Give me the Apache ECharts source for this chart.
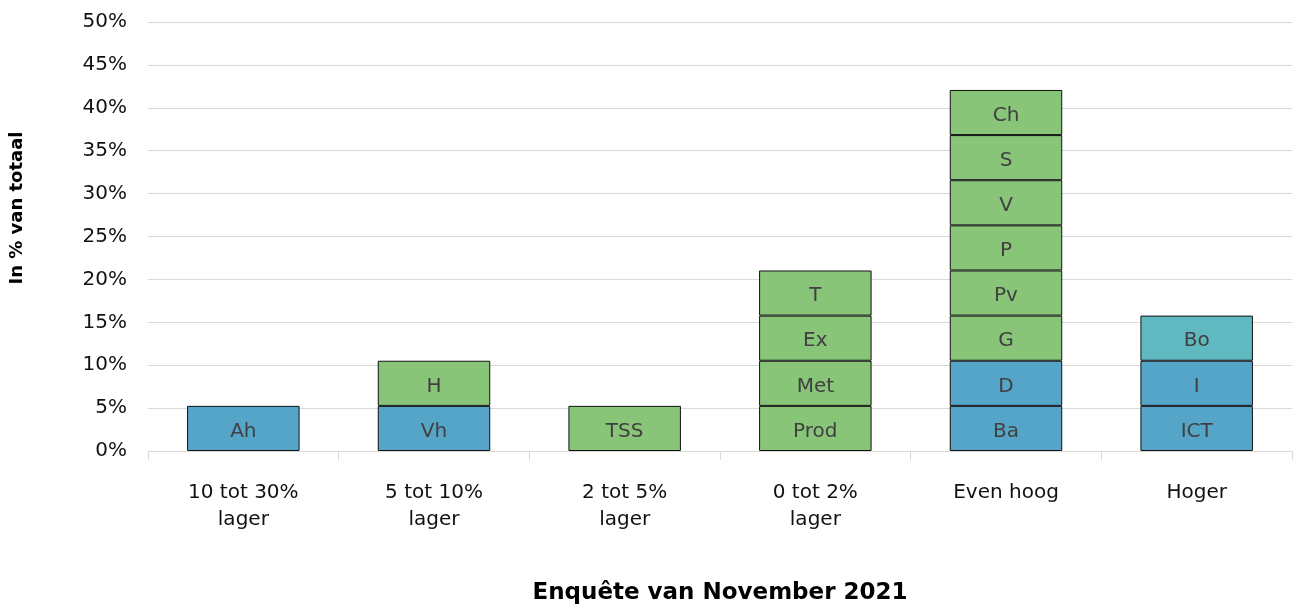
<!DOCTYPE html>
<html>
<head>
<meta charset="utf-8">
<script src="https://cdn.jsdelivr.net/npm/echarts@6/dist/echarts.min.js"></script>
<style>
  html, body { margin: 0; padding: 0; background: #fff; }
  #chart { width: 1293px; height: 608px; }
</style>
</head>
<body>
<div id="chart"></div>
<script>
// Categories on the x axis
const categories = ['10 tot 30%\nlager', '5 tot 10%\nlager', '2 tot 5%\nlager', '0 tot 2%\nlager', 'Even hoog', 'Hoger']

// Stacked segments per category, bottom to top
const segmentNames = [
  ['Ah'],
  ['Vh', 'H'],
  ['TSS'],
  ['Prod', 'Met', 'Ex', 'T'],
  ['Ba', 'D', 'G', 'Pv', 'P', 'V', 'S', 'Ch'],
  ['ICT', 'I', 'Bo']
]
const segmentValues = [
  [5.26],
  [5.26, 5.26],
  [5.26],
  [5.26, 5.26, 5.26, 5.26],
  [5.26, 5.26, 5.26, 5.26, 5.26, 5.26, 5.26, 5.26],
  [5.26, 5.26, 5.26]
]
const segmentGroups = [
  ['blue'],
  ['blue', 'green'],
  ['green'],
  ['green', 'green', 'green', 'green'],
  ['blue', 'blue', 'green', 'green', 'green', 'green', 'green', 'green'],
  ['blue', 'blue', 'teal']
]

const yTicks = [0, 5, 10, 15, 20, 25, 30, 35, 40, 45, 50]

const groupColors = { blue: '#55a5c9', green: '#88c578', teal: '#60b9c0' }
const font = '"DejaVu Sans", "Noto Sans", sans-serif'

const chart = echarts.init(document.getElementById('chart'))

// One series per stack layer
const layers = Math.max(...segmentValues.map(s => s.length))
const series = []
for (let l = 0; l < layers; l++) {
  series.push({
    type: 'bar',
    stack: 'total',
    barWidth: '59%',
    data: categories.map((c, i) => {
      if (l >= segmentValues[i].length) return '-'
      return {
        value: segmentValues[i][l],
        name: segmentNames[i][l],
        itemStyle: { color: groupColors[segmentGroups[i][l]] }
      }
    }),
    itemStyle: { borderColor: '#111', borderWidth: 1 },
    label: {
      show: true,
      position: 'inside',
      offset: [0, 3],
      formatter: p => p.data.name,
      color: '#404040',
      fontSize: 20,
      fontFamily: font
    },
    emphasis: { disabled: true }
  })
}

const options = {
  animation: false,
  grid: { left: 148, right: 1, top: 22, bottom: 157, outerBoundsMode: 'none' },
  xAxis: {
    type: 'category',
    data: categories,
    name: 'Enquête van November 2021',
    nameLocation: 'middle',
    nameGap: 131,
    nameTextStyle: { fontSize: 23, fontWeight: 'bold', color: '#000', fontFamily: font },
    axisLine: { lineStyle: { color: '#d9d9d9', width: 1 } },
    axisTick: { show: true, length: 9, lineStyle: { color: '#d9d9d9' } },
    axisLabel: { fontSize: 20, color: '#111', fontFamily: font, margin: 28, lineHeight: 27 }
  },
  yAxis: {
    type: 'value',
    min: yTicks[0],
    max: yTicks[yTicks.length - 1],
    interval: 5,
    axisLine: { show: false },
    axisTick: { show: false },
    axisLabel: { formatter: '{value}%', fontSize: 20, color: '#111', fontFamily: font, margin: 21 },
    splitLine: { lineStyle: { color: '#d9d9d9', width: 1 } }
  },
  graphic: [{
    type: 'text',
    x: 17,
    y: 208,
    rotation: Math.PI / 2,
    style: {
      text: 'In % van totaal',
      fontSize: 18,
      fontWeight: 'bold',
      fontFamily: font,
      fill: '#000',
      align: 'center',
      verticalAlign: 'middle'
    }
  }],
  series: series
}
chart.setOption(options)
</script>
</body>
</html>
